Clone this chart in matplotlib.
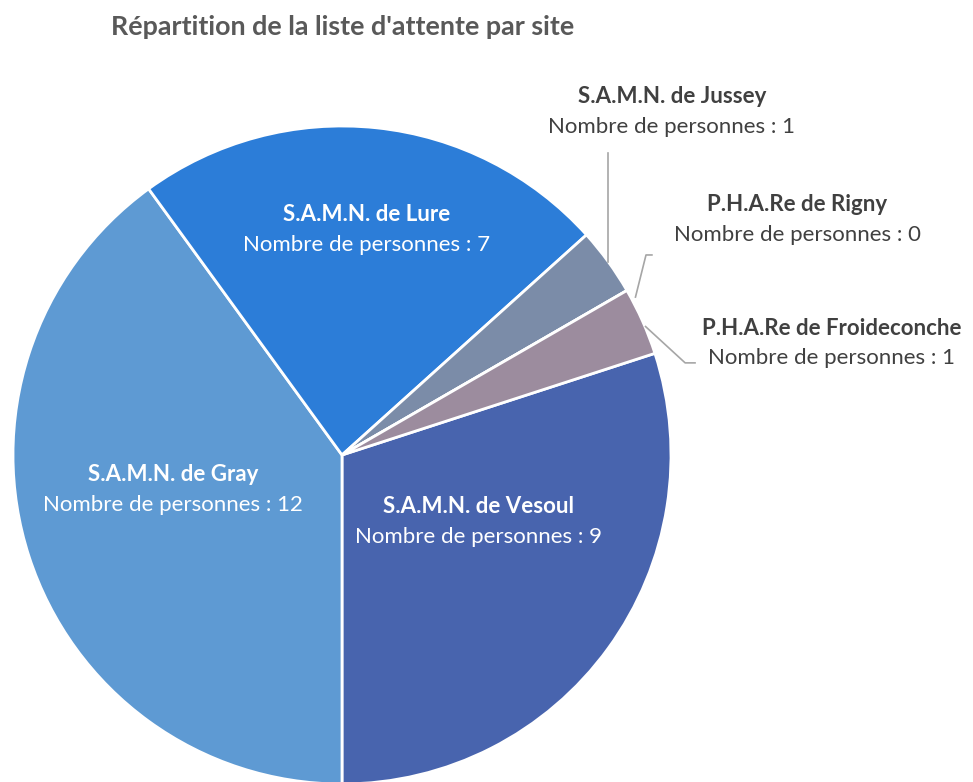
import matplotlib
matplotlib.use("Agg")
import matplotlib.pyplot as plt
import numpy as np

# Data
sites = ["S.A.M.N. de Vesoul", "S.A.M.N. de Gray", "S.A.M.N. de Lure",
         "S.A.M.N. de Jussey", "P.H.A.Re de Rigny", "P.H.A.Re de Froideconche"]
counts = [9, 12, 7, 1, 0, 1]
colors = ["#4864AE", "#5E9AD3", "#2C7DD8", "#7B8CA8", "#8A9AB5", "#9C8C9E"]
title = "Répartition de la liste d'attente par site"
value_prefix = "Nombre de personnes : "

plt.rcParams['font.family'] = ['Lato', 'DejaVu Sans']

W, H = 973, 782
fig = plt.figure(figsize=(W / 100, H / 100), dpi=100)
cx, cy, R = 342, 455, 329
ax = fig.add_axes([(cx - R) / W, (H - cy - R) / H, 2 * R / W, 2 * R / H])

wedges, _ = ax.pie(counts, colors=colors, startangle=18, counterclock=False,
                   wedgeprops=dict(edgecolor="white", linewidth=2))
ax.set_xlim(-1, 1)
ax.set_ylim(-1, 1)
ax.axis("off")

fig.text(111 / W, 1 - 27 / H, title, fontsize=19.4, fontweight="bold",
         color="#595959", ha="left", va="center")

# label layout: (x, y) in data units of the pie, inside flag
label_pos = [(0.416, -0.204), (-0.514, -0.106), (0.075, 0.684),
             (1.003, 1.043), (1.383, 0.714), (1.489, 0.340)]
inside = [True, True, True, False, False, False]
dy = 0.046
fs = 16
for name, val, (x, y), ins in zip(sites, counts, label_pos, inside):
    col = "white" if ins else "#404040"
    ax.text(x, y + dy, name, ha="center", va="center", fontsize=fs,
            fontweight="bold", color=col, clip_on=False)
    ax.text(x, y - dy, f"{value_prefix}{val}", ha="center", va="center",
            fontsize=fs, color=col, clip_on=False)

# leader lines, attached at wedge mid angles
def mid(w):
    a = np.deg2rad((w.theta1 + w.theta2) / 2)
    return np.cos(a), np.sin(a)

lc = "#A6A6A6"
x0, y0 = mid(wedges[3])
ax.plot([x0, x0], [y0, 0.918], color=lc, lw=1.2, clip_on=False)
x0, y0 = mid(wedges[4])
ax.plot([x0 * 1.03, 0.924, 0.942], [y0 - 0.02, 0.608, 0.608], color=lc, lw=1.2, clip_on=False)
x0, y0 = mid(wedges[5])
ax.plot([x0 * 1.01, 1.043, 1.073], [y0 * 0.96, 0.280, 0.280], color=lc, lw=1.2, clip_on=False)

fig.savefig("out.png", dpi=100)
